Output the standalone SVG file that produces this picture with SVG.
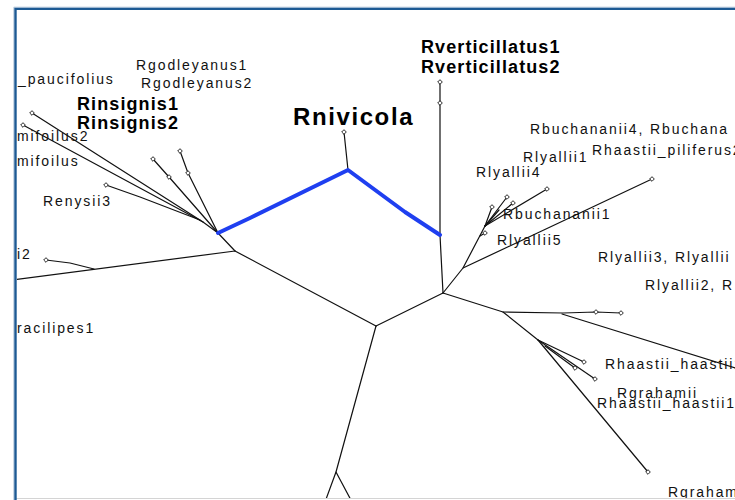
<svg xmlns="http://www.w3.org/2000/svg" xmlns:xlink="http://www.w3.org/1999/xlink" width="735" height="500" viewBox="0 0 735 500">
  <style>
    .br { fill: none; stroke: #111; stroke-width: 1.2; stroke-linecap: round; stroke-linejoin: round; }
    .path { fill: none; stroke: #1f3ff0; stroke-width: 4; stroke-linecap: round; stroke-linejoin: round; }
    .lbl { font-family: "Liberation Sans", Arial, sans-serif; font-size: 14px; letter-spacing: 1.9px; fill: #111; }
    .big { font-family: "Liberation Sans", Arial, sans-serif; font-size: 18px; font-weight: bold; letter-spacing: 1.1px; fill: #000; }
    .title { font-family: "Liberation Sans", Arial, sans-serif; font-size: 24px; font-weight: bold; letter-spacing: 1.6px; fill: #000; }
  </style>
  <defs>
    <polygon id="tip" points="0,-2.3 2.3,0 0,2.3 -2.3,0" fill="#fff" stroke="#111" stroke-width="0.9"/>
    <clipPath id="pane">
      <rect x="17" y="10" width="718" height="488"/>
    </clipPath>
  </defs>

  <rect width="735" height="500" fill="#fff"/>

  <g clip-path="url(#pane)">
    <!-- tree branches -->
    <g id="connectors">
      <polyline class="br" points="376,326 336,472 325,502"/>
      <line class="br" x1="336" y1="472" x2="352" y2="502"/>
      <line class="br" x1="376" y1="326" x2="443" y2="293"/>
      <line class="br" x1="376" y1="326" x2="235" y2="251"/>
      <line class="br" x1="235" y1="251" x2="5" y2="281"/>
      <polyline class="br" points="94,269 70,263 46,260"/>
      <line class="br" x1="235" y1="251" x2="218" y2="233"/>

      <!-- left cluster -->
      <polyline class="br" points="218,233 203,222 32,113"/>
      <line class="br" x1="203" y1="222" x2="23" y2="125"/>
      <polyline class="br" points="200,220 140,197 106,185"/>
      <polyline class="br" points="218,233 188,173 180,151"/>
      <polyline class="br" points="218,233 169,177 153,159"/>

      <!-- upper centre -->
      <line class="br" x1="348" y1="170" x2="344" y2="132"/>
      <polyline class="br" points="443,293 440,235 440,103 440,82"/>

      <!-- upper right -->
      <polyline class="br" points="443,293 463,268 485,226"/>
      <line class="br" x1="463" y1="268" x2="652" y2="179"/>
      <line class="br" x1="485" y1="226" x2="492" y2="207"/>
      <line class="br" x1="485" y1="226" x2="507" y2="197"/>
      <line class="br" x1="485" y1="226" x2="513" y2="203"/>
      <line class="br" x1="485" y1="226" x2="547" y2="189"/>
      <line class="br" x1="485" y1="226" x2="499" y2="210"/>
      <line class="br" x1="480" y1="236" x2="485" y2="233"/>

      <!-- lower right -->
      <polyline class="br" points="443,293 503,312 563,313 596,312 621,313"/>
      <line class="br" x1="562" y1="314" x2="745" y2="371"/>
      <polyline class="br" points="503,312 538,340 648,472"/>
      <line class="br" x1="538" y1="340" x2="584" y2="362"/>
      <line class="br" x1="538" y1="340" x2="595" y2="379"/>
      <line class="br" x1="545" y1="346" x2="575" y2="368"/>

      <!-- highlighted route -->
      <polyline class="path" points="218,233 250,218 348,170 405,212 440,235"/>
    </g>

    <!-- leaf tips -->
    <g id="tips">
      <use xlink:href="#tip" x="46" y="260"/>
      <use xlink:href="#tip" x="344" y="132"/>
      <use xlink:href="#tip" x="440" y="103"/>
      <use xlink:href="#tip" x="440" y="82"/>
      <use xlink:href="#tip" x="652" y="179"/>
      <use xlink:href="#tip" x="492" y="207"/>
      <use xlink:href="#tip" x="507" y="197"/>
      <use xlink:href="#tip" x="513" y="203"/>
      <use xlink:href="#tip" x="547" y="189"/>
      <use xlink:href="#tip" x="485" y="233"/>
      <use xlink:href="#tip" x="596" y="312"/>
      <use xlink:href="#tip" x="621" y="313"/>
      <use xlink:href="#tip" x="648" y="472"/>
      <use xlink:href="#tip" x="584" y="362"/>
      <use xlink:href="#tip" x="595" y="379"/>
      <use xlink:href="#tip" x="575" y="368"/>
      <use xlink:href="#tip" x="32" y="113"/>
      <use xlink:href="#tip" x="23" y="125"/>
      <use xlink:href="#tip" x="106" y="185"/>
      <use xlink:href="#tip" x="188" y="173"/>
      <use xlink:href="#tip" x="180" y="151"/>
      <use xlink:href="#tip" x="169" y="177"/>
      <use xlink:href="#tip" x="153" y="159"/>
    </g>

    <!-- taxon labels -->
    <g id="n-paucifolius"><text class="lbl" x="18" y="84">_paucifolius</text></g>
    <g id="n-godleyanus1"><text class="lbl" x="136" y="70">Rgodleyanus1</text></g>
    <g id="n-godleyanus2"><text class="lbl" x="141" y="88">Rgodleyanus2</text></g>
    <g id="n-insignis1"><text class="big" x="77" y="110">Rinsignis1</text></g>
    <g id="n-insignis2"><text class="big" x="77" y="129">Rinsignis2</text></g>
    <g id="n-mifoilus2"><text class="lbl" x="17" y="141">mifoilus2</text></g>
    <g id="n-mifoilus"><text class="lbl" x="17" y="166">mifoilus</text></g>
    <g id="n-enysii3"><text class="lbl" x="43" y="206">Renysii3</text></g>
    <g id="n-i2"><text class="lbl" x="17" y="259">i2</text></g>
    <g id="n-racilipes1"><text class="lbl" x="17" y="333">racilipes1</text></g>
    <g id="n-nivicola"><text class="title" x="293" y="125">Rnivicola</text></g>
    <g id="n-verticillatus1"><text class="big" x="421" y="53">Rverticillatus1</text></g>
    <g id="n-verticillatus2"><text class="big" x="421" y="73">Rverticillatus2</text></g>
    <g id="n-buchananii4"><text class="lbl" x="530" y="134">Rbuchananii4, Rbuchana</text></g>
    <g id="n-piliferus2"><text class="lbl" x="592" y="155">Rhaastii_piliferus2</text></g>
    <g id="n-lyallii1"><text class="lbl" x="523" y="162">Rlyallii1</text></g>
    <g id="n-lyallii4"><text class="lbl" x="476" y="177">Rlyallii4</text></g>
    <g id="n-buchananii1"><text class="lbl" x="503" y="219">Rbuchananii1</text></g>
    <g id="n-lyallii5"><text class="lbl" x="497" y="245">Rlyallii5</text></g>
    <g id="n-lyallii3"><text class="lbl" x="598" y="262">Rlyallii3, Rlyallii</text></g>
    <g id="n-lyallii2"><text class="lbl" x="645" y="290">Rlyallii2, R</text></g>
    <g id="n-haastii2"><text class="lbl" x="605" y="369">Rhaastii_haastii2</text></g>
    <g id="n-grahamii"><text class="lbl" x="617" y="398">Rgrahamii</text></g>
    <g id="n-haastii1"><text class="lbl" x="597" y="408">Rhaastii_haastii1</text></g>
    <g id="n-graham"><text class="lbl" x="668" y="497">Rgraham</text></g>
  </g>

  <!-- window frame -->
  <line x1="16" y1="498.5" x2="735" y2="498.5" stroke="#d4d4d4" stroke-width="1"/>
  <path d="M735,7.2 H13.8 V500" fill="none" stroke="#b4c8dc" stroke-width="1"/>
  <path d="M735,8.9 H15.5 V500" fill="none" stroke="#1d5a94" stroke-width="2.4"/>
</svg>
